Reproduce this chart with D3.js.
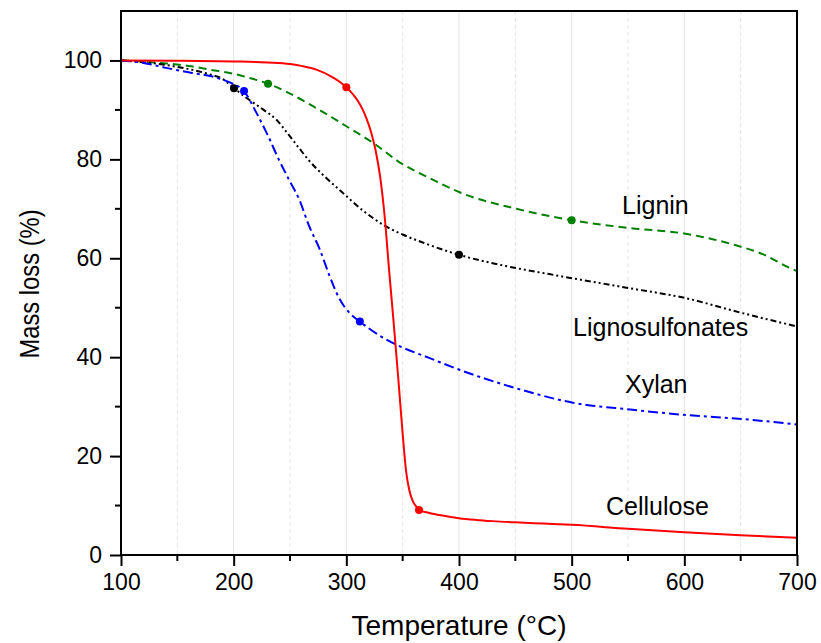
<!DOCTYPE html>
<html>
<head>
<meta charset="utf-8">
<script src="https://cdn.jsdelivr.net/npm/d3@7"></script>
<style>
  html, body { margin: 0; padding: 0; background: #fff; }
  svg { display: block; font-family: Arial, "Liberation Sans", sans-serif; }
</style>
</head>
<body>
<svg id="chart" width="821" height="643"></svg>
<script>
// TGA curves: temperature (°C) vs remaining mass (%)
const celluloseT = [100, 150, 200, 230, 250, 260, 274, 288, 294, 300, 305, 310, 314, 318, 322, 326, 330, 334, 338, 342, 346, 350, 353, 356, 359, 362, 364.5, 372, 380, 390, 400, 415, 430, 450, 475, 500, 550, 600, 650, 700];
const celluloseM = [100, 99.95, 99.8, 99.6, 99.3, 98.9, 98.1, 96.6, 95.7, 94.6, 93.4, 91.9, 90.3, 88.2, 85.5, 81.8, 76.5, 68.5, 57.5, 47, 36, 24.5, 17, 13, 10.9, 9.8, 9.1, 8.6, 8.2, 7.8, 7.45, 7.1, 6.85, 6.6, 6.35, 6.1, 5.3, 4.6, 4.0, 3.5];

const ligninT = [100, 140, 160, 180, 200, 215, 230.5, 250, 270, 300, 324, 348, 374, 401, 451, 500, 552, 600, 643, 670, 693, 700];
const ligninM = [100, 99.4, 98.9, 98.1, 97.3, 96.4, 95.3, 93.3, 90.8, 86.7, 83.3, 79.3, 76.2, 73.3, 70, 67.7, 66.1, 65, 62.8, 60.8, 58.1, 57.4];

const lignosulfonatesT = [100, 126, 150, 180, 190, 200.3, 211.5, 226, 238, 247, 258, 266, 280, 297, 315, 334, 350, 370, 400, 436, 480, 550, 600, 650, 700];
const lignosulfonatesM = [100, 99.5, 98.7, 97.1, 96.3, 94.4, 92.4, 90.1, 88, 85.5, 82.3, 80, 76.7, 73.2, 69.6, 66.6, 64.8, 63, 60.7, 58.7, 56.8, 54, 52, 49, 46.2];

const xylanT = [100, 120, 140, 160, 185, 197, 209.2, 220, 230, 240, 250, 258, 267, 276.6, 285, 294.4, 303, 312, 330, 347.6, 374, 401, 451, 501, 552, 602, 651, 700];
const xylanM = [100, 99.5, 98.5, 97.6, 96.5, 95.5, 93.8, 89.5, 85, 80, 75.5, 72, 66.5, 61.7, 56.5, 51.6, 48.9, 47.2, 44.3, 42.2, 39.8, 37.4, 33.7, 30.8, 29.4, 28.3, 27.5, 26.4];

// highlighted points on each curve
const celluloseMarkT = [300, 364.5];
const ligninMarkT = [230.5, 500];
const lignosulfonatesMarkT = [200.3, 400];
const xylanMarkT = [209.2, 312];

const seriesNames = ["Cellulose", "Lignin", "Lignosulfonates", "Xylan"];
const seriesColors = ["#ff0000", "#008000", "#000000", "#0000ff"];
const seriesDash = [null, "8,5", "6,3,2,3,2,3", "10,4,3,4"];

// label anchors (temperature, mass %) at the left end of each label's baseline
const labelT = [530.5, 544.7, 501.2, 547.3];
const labelM = [8.1, 69, 44.3, 32.7];

const xTicks = [100, 200, 300, 400, 500, 600, 700];
const xMinor = [150, 250, 350, 450, 550, 650];
const yTicks = [0, 20, 40, 60, 80, 100];
const yMinor = [10, 30, 50, 70, 90];

const W = 821, H = 643;
const margin = { top: 11, right: 24, bottom: 88, left: 121 };
const iw = W - margin.left - margin.right;
const ih = H - margin.top - margin.bottom;

const svg = d3.select("#chart");
const g = svg.append("g").attr("transform", `translate(${margin.left},${margin.top})`);

const x = d3.scaleLinear().domain([100, 700]).range([0, iw]);
const y = d3.scaleLinear().domain([0, 110]).range([ih, 0]);

// vertical grid
g.append("g").selectAll("line").data(xTicks.slice(1, -1)).join("line")
  .attr("x1", d => x(d)).attr("x2", d => x(d)).attr("y1", 0).attr("y2", ih)
  .attr("stroke", "#e3e3e3").attr("stroke-width", 1);
g.append("g").selectAll("line").data(xMinor).join("line")
  .attr("x1", d => x(d)).attr("x2", d => x(d)).attr("y1", 0).attr("y2", ih)
  .attr("stroke", "#e6e6e6").attr("stroke-width", 1).attr("stroke-dasharray", "4,3");

const series = [
  { T: celluloseT, M: celluloseM, marks: celluloseMarkT },
  { T: ligninT, M: ligninM, marks: ligninMarkT },
  { T: lignosulfonatesT, M: lignosulfonatesM, marks: lignosulfonatesMarkT },
  { T: xylanT, M: xylanM, marks: xylanMarkT }
].map((s, i) => ({
  name: seriesNames[i], color: seriesColors[i], dash: seriesDash[i],
  pts: s.T.map((t, j) => [t, s.M[j]]),
  marks: s.marks.map(t => [t, s.M[s.T.indexOf(t)]])
}));

const line = d3.line().x(d => x(d[0])).y(d => y(d[1])).curve(d3.curveMonotoneX);

// draw order: lignin, lignosulfonates, xylan, cellulose on top
[1, 2, 3, 0].forEach(i => {
  const s = series[i];
  g.append("path").datum(s.pts)
    .attr("d", line).attr("fill", "none")
    .attr("stroke", s.color).attr("stroke-width", 2)
    .attr("stroke-dasharray", s.dash);
  g.append("g").selectAll("circle").data(s.marks).join("circle")
    .attr("cx", d => x(d[0])).attr("cy", d => y(d[1])).attr("r", 4)
    .attr("fill", s.color);
});

// curve labels
g.append("g").selectAll("text").data(seriesNames).join("text")
  .attr("x", (d, i) => x(labelT[i])).attr("y", (d, i) => y(labelM[i]))
  .attr("font-size", 25).attr("fill", "#000").text(d => d);

// axes
const xAxis = d3.axisBottom(x).tickValues(xTicks).tickSize(11).tickPadding(8).tickFormat(d3.format("d"));
const yAxis = d3.axisLeft(y).tickValues(yTicks).tickSize(11).tickPadding(8).tickFormat(d3.format("d"));

const gx = g.append("g").attr("transform", `translate(0,${ih})`).call(xAxis);
const gy = g.append("g").call(yAxis);
[gx, gy].forEach(a => {
  a.select(".domain").remove();
  a.selectAll(".tick line").attr("stroke", "#000").attr("stroke-width", 2);
  a.selectAll(".tick text").attr("font-size", 23).attr("fill", "#000")
    .attr("font-family", "Arial, 'Liberation Sans', sans-serif");
});

g.append("g").selectAll("line").data(xMinor).join("line")
  .attr("x1", d => x(d)).attr("x2", d => x(d)).attr("y1", ih).attr("y2", ih + 6)
  .attr("stroke", "#000").attr("stroke-width", 2);
g.append("g").selectAll("line").data(yMinor).join("line")
  .attr("x1", -6).attr("x2", 0).attr("y1", d => y(d)).attr("y2", d => y(d))
  .attr("stroke", "#000").attr("stroke-width", 2);

// frame
g.append("rect").attr("x", 0).attr("y", 0).attr("width", iw).attr("height", ih)
  .attr("fill", "none").attr("stroke", "#000").attr("stroke-width", 2);

// axis titles
svg.append("text").attr("x", margin.left + iw / 2).attr("y", 635)
  .attr("text-anchor", "middle").attr("font-size", 28).text("Temperature (°C)");
svg.append("text").attr("transform", `translate(39,${margin.top + ih / 2 + 1}) rotate(-90) scale(0.88,1)`)
  .attr("text-anchor", "middle").attr("font-size", 27).text("Mass loss (%)");
</script>
</body>
</html>
